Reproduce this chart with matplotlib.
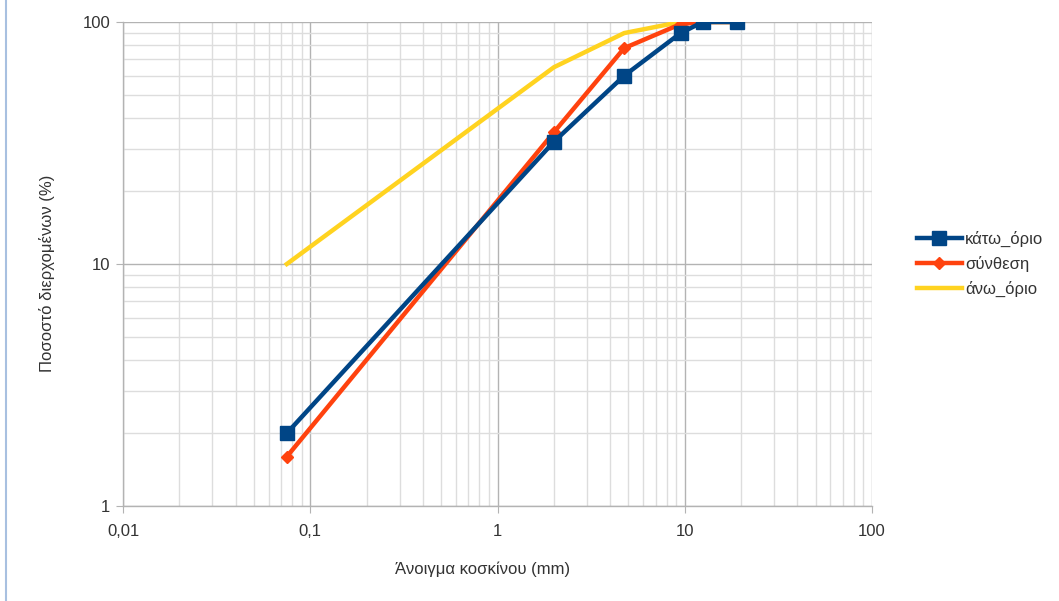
import matplotlib
matplotlib.use("Agg")
import matplotlib.pyplot as plt
from matplotlib.ticker import LogLocator, FixedLocator, FixedFormatter, NullFormatter
from matplotlib.lines import Line2D

plt.rcParams['font.family'] = ['Liberation Sans', 'DejaVu Sans']

sieve = [0.075, 2, 4.75, 9.5, 12.5, 19]
kato_orio = [2, 32, 60, 90, 100, 100]
synthesi = [1.6, 35, 78, 98, 100, 100]
ano_orio = [10, 65, 90, 100, 100, 100]

x_ticks = [0.01, 0.1, 1, 10, 100]
x_labels = ['0,01', '0,1', '1', '10', '100']
y_ticks = [1, 10, 100]
y_labels = ['1', '10', '100']

fig = plt.figure(figsize=(10.59, 6.01), dpi=100)
ax = fig.add_axes([123/1059, 1-506/601, (872-123)/1059, (506-22)/601])

ax.plot(sieve, kato_orio, color='#004586', lw=3.2, marker='s', ms=9.5, label='κάτω_όριο', zorder=5)
ax.plot(sieve, synthesi, color='#ff420e', lw=3.2, marker='D', ms=6, label='σύνθεση', zorder=4)
ax.plot(sieve, ano_orio, color='#ffd320', lw=3.2, label='άνω_όριο', zorder=3)

ax.set_xscale('log')
ax.set_yscale('log')
ax.set_xlim(0.01, 100)
ax.set_ylim(1, 100)

ax.xaxis.set_major_locator(FixedLocator(x_ticks))
ax.xaxis.set_major_formatter(FixedFormatter(x_labels))
ax.yaxis.set_major_locator(FixedLocator(y_ticks))
ax.yaxis.set_major_formatter(FixedFormatter(y_labels))
ax.xaxis.set_minor_locator(LogLocator(base=10, subs=range(2, 10), numticks=20))
ax.yaxis.set_minor_locator(LogLocator(base=10, subs=range(2, 10), numticks=20))
ax.xaxis.set_minor_formatter(NullFormatter())
ax.yaxis.set_minor_formatter(NullFormatter())

ax.grid(which='major', color='#b3b3b3', lw=1.0)
ax.grid(which='minor', color='#dddddd', lw=1.0)
ax.set_axisbelow(True)

for s in ['top', 'right']:
    ax.spines[s].set_visible(False)
for s in ['left', 'bottom']:
    ax.spines[s].set_color('#b3b3b3')
    ax.spines[s].set_linewidth(1.0)

ax.tick_params(which='major', length=5, color='#b3b3b3', labelsize=12, labelcolor='#333333', pad=4)
ax.tick_params(which='minor', length=0)
ax.tick_params(axis='x', pad=8)

ax.set_xlabel('Άνοιγμα κοσκίνου (mm)', fontsize=12, color='#333333', labelpad=16, x=0.48)
ax.set_ylabel('Ποσοστό διερχομένων (%)', fontsize=12, color='#333333', labelpad=20, y=0.48)

leg = ax.legend(loc='center left', bbox_to_anchor=(1.04, 0.5), frameon=False,
                fontsize=12, handlelength=2.7, labelspacing=0.55, handletextpad=0.2)
for t in leg.get_texts():
    t.set_color('#333333')

fig.add_artist(Line2D([6/1059, 6/1059], [0, 1], color='#a8c0e0', lw=1.5))

fig.savefig('out.png', dpi=100)
